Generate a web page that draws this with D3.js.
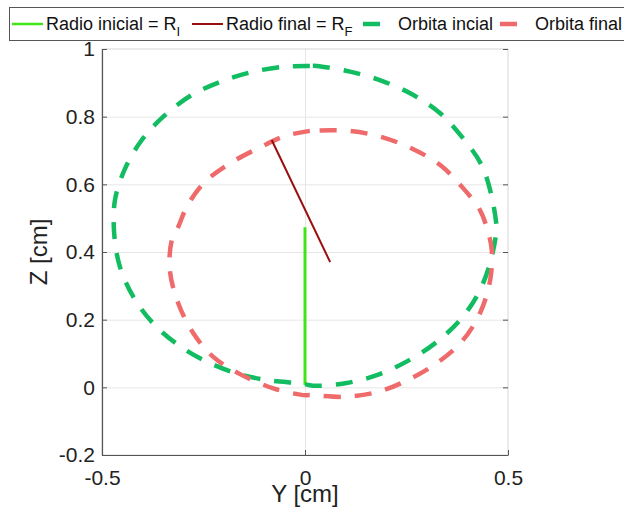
<!DOCTYPE html>
<html>
<head>
<meta charset="utf-8">
<script src="https://cdn.jsdelivr.net/npm/d3@7"></script>
<style>
  body { margin: 0; background: #fff; }
  svg { font-family: "Liberation Sans", Arial, Helvetica, sans-serif; }
</style>
</head>
<body>
<div id="chart"></div>
<script>
// Orbita incial (Y / Z in cm)
var greenOrbitY = [0.012, -0.049, -0.131, -0.209, -0.283, -0.349, -0.402, -0.443, -0.468,
	-0.470, -0.456, -0.423, -0.374, -0.312, -0.242, -0.168, -0.086, -0.012,
	0.020, 0.099, 0.177, 0.250, 0.320, 0.382, 0.427, 0.456, 0.472,
	0.472, 0.460, 0.435, 0.386, 0.333, 0.267, 0.189, 0.111, 0.029, 0.012];
var greenOrbitZ = [0.950, 0.948, 0.932, 0.903, 0.861, 0.800, 0.731, 0.647, 0.554,
	0.455, 0.357, 0.268, 0.189, 0.125, 0.076, 0.041, 0.020, 0.012,
	0.005, 0.012, 0.036, 0.076, 0.130, 0.199, 0.278, 0.367, 0.465,
	0.475, 0.563, 0.657, 0.741, 0.810, 0.864, 0.906, 0.933, 0.950, 0.950];

// Orbita final
var redOrbitY = [0.012, -0.049, -0.111, -0.185, -0.250, -0.291, -0.312,
	-0.328, -0.333, -0.312, -0.275, -0.226, -0.160, -0.078, -0.004,
	0.012, 0.099, 0.181, 0.254, 0.324, 0.386, 0.431, 0.456, 0.460,
	0.447, 0.431, 0.390, 0.333, 0.263, 0.185, 0.107, 0.025, 0.012];
var redOrbitZ = [0.758, 0.743, 0.709, 0.662, 0.603, 0.534, 0.475,
	0.435, 0.347, 0.248, 0.160, 0.090, 0.039, -0.003, -0.023,
	-0.023, -0.028, -0.013, 0.022, 0.071, 0.135, 0.219, 0.317, 0.406,
	0.475, 0.524, 0.588, 0.657, 0.706, 0.741, 0.758, 0.759, 0.758];

// Radio inicial / final
var radioInicialY = [0, 0];
var radioInicialZ = [0.007, 0.473];
var radioFinalY = [-0.082, 0.062];
var radioFinalZ = [0.731, 0.370];

var yTicks = [-0.5, 0, 0.5];
var zTicks = [-0.2, 0, 0.2, 0.4, 0.6, 0.8, 1];

var legendLabels = ["Radio inicial = R", "Radio final = R", "Orbita incial", "Orbita final"];
var legendSubs = ["I", "F", "", ""];

var colors = { radioI: "#3fe516", radioF: "#990f0f", orbitI: "#12bd62", orbitF: "#ef6b6b" };

var W = 624, H = 511;
var mLeft = 102, mRight = 508, mTop = 49, mBottom = 455;

var svg = d3.select("#chart").append("svg")
	.attr("width", W)
	.attr("height", H);

var x = d3.scaleLinear().domain([-0.5, 0.5]).range([mLeft, mRight]);
var y = d3.scaleLinear().domain([-0.2, 1]).range([mBottom, mTop]);

function fmt(d) {
	return String(+d.toFixed(1));
}

function zip(a, b) {
	return a.map(function(v, i) { return [v, b[i]]; });
}

// grid
svg.append("g")
	.attr("transform", "translate(" + mLeft + ",0)")
	.call(d3.axisLeft(y).tickValues(zTicks.slice(1, -1)).tickSize(-(mRight - mLeft)).tickFormat(""))
	.call(function(g) { g.select(".domain").remove(); })
	.selectAll("line").attr("stroke", "#e6e6e6");

svg.append("g")
	.attr("transform", "translate(0," + mBottom + ")")
	.call(d3.axisBottom(x).tickValues([0]).tickSize(-(mBottom - mTop)).tickFormat(""))
	.call(function(g) { g.select(".domain").remove(); })
	.selectAll("line").attr("stroke", "#e6e6e6");

// box (top / right are light)
svg.append("rect")
	.attr("x", mLeft).attr("y", mTop)
	.attr("width", mRight - mLeft).attr("height", mBottom - mTop)
	.attr("fill", "none").attr("stroke", "#d6d6d6");

// right ticks
svg.append("g")
	.attr("transform", "translate(" + mRight + ",0)")
	.call(d3.axisRight(y).tickValues(zTicks).tickSize(-5).tickFormat(""))
	.call(function(g) { g.select(".domain").remove(); })
	.selectAll("line").attr("stroke", "#555");

// axes
var xAxis = svg.append("g")
	.attr("transform", "translate(0," + mBottom + ")")
	.call(d3.axisBottom(x).tickValues(yTicks).tickSize(-5).tickSizeOuter(0).tickPadding(15).tickFormat(fmt));

var yAxis = svg.append("g")
	.attr("transform", "translate(" + mLeft + ",0)")
	.call(d3.axisLeft(y).tickValues(zTicks).tickSize(-5).tickSizeOuter(0).tickPadding(7).tickFormat(fmt));

[xAxis, yAxis].forEach(function(g) {
	g.select(".domain").attr("stroke", "#555").attr("stroke-width", 1.2);
	g.selectAll(".tick line").attr("stroke", "#555");
	g.selectAll(".tick text")
		.attr("fill", "#222")
		.style("font-size", "21px")
		.style("font-family", "\"Liberation Sans\", Arial, sans-serif");
});

// axis titles
svg.append("text")
	.attr("x", (mLeft + mRight) / 2)
	.attr("y", 502)
	.attr("text-anchor", "middle")
	.attr("fill", "#222")
	.style("font-size", "24px")
	.text("Y [cm]");

svg.append("text")
	.attr("transform", "translate(47," + ((mTop + mBottom) / 2) + ") rotate(-90)")
	.attr("text-anchor", "middle")
	.attr("fill", "#222")
	.style("font-size", "24px")
	.text("Z [cm]");

// orbits and radii
var line = d3.line()
	.x(function(d) { return x(d[0]); })
	.y(function(d) { return y(d[1]); })
	.curve(d3.curveCatmullRom);

var plot = svg.append("g");

plot.append("path")
	.datum(zip(radioInicialY, radioInicialZ))
	.attr("d", line)
	.attr("fill", "none")
	.attr("stroke", colors.radioI)
	.attr("stroke-width", 3);

plot.append("path")
	.datum(zip(greenOrbitY, greenOrbitZ))
	.attr("d", line)
	.attr("fill", "none")
	.attr("stroke", colors.orbitI)
	.attr("stroke-width", 4.5)
	.attr("stroke-dasharray", "17,14");

plot.append("path")
	.datum(zip(redOrbitY, redOrbitZ))
	.attr("d", line)
	.attr("fill", "none")
	.attr("stroke", colors.orbitF)
	.attr("stroke-width", 4.5)
	.attr("stroke-dasharray", "17,14");

// final radius sits on top of the orbit
plot.append("path")
	.datum(zip(radioFinalY, radioFinalZ))
	.attr("d", line)
	.attr("fill", "none")
	.attr("stroke", colors.radioF)
	.attr("stroke-width", 2);

// legend
var legend = svg.append("g");

legend.append("rect")
	.attr("x", 9.5).attr("y", 7.5)
	.attr("width", 640).attr("height", 33)
	.attr("fill", "#fff")
	.attr("stroke", "#555");

var legendItems = [
	{ x0: 12, x1: 43, tx: 46, color: colors.radioI, w: 2.5 },
	{ x0: 192, x1: 223, tx: 226, color: colors.radioF, w: 2 },
	{ x0: 363, x1: 380, tx: 398, color: colors.orbitI, w: 4.5 },
	{ x0: 500, x1: 517, tx: 535, color: colors.orbitF, w: 4.5 }
];

legendItems.forEach(function(it, i) {
	legend.append("line")
		.attr("x1", it.x0).attr("x2", it.x1)
		.attr("y1", 24).attr("y2", 24)
		.attr("stroke", it.color)
		.attr("stroke-width", it.w);
	var t = legend.append("text")
		.attr("x", it.tx)
		.attr("y", 30)
		.attr("fill", "#111")
		.style("font-size", "18px")
		.text(legendLabels[i]);
	if (legendSubs[i]) {
		t.append("tspan")
			.attr("dy", 6)
			.style("font-size", "13px")
			.text(legendSubs[i]);
	}
});
</script>
</body>
</html>
